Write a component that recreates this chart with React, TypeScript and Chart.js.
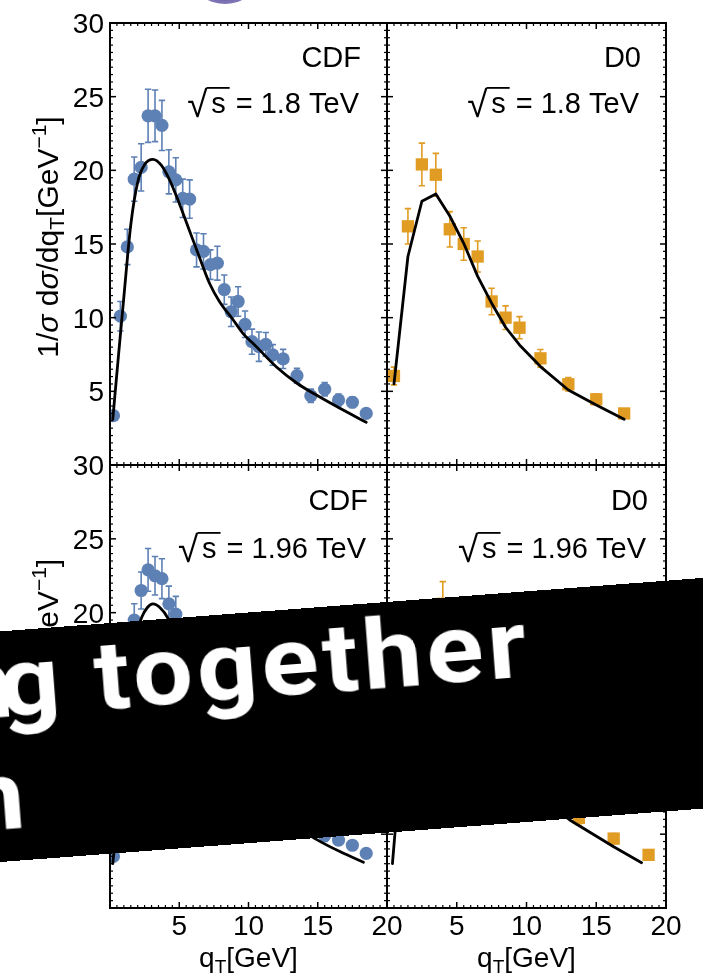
import React, { useEffect, useRef } from "react";
import { Chart, registerables } from "chart.js";

Chart.register(...registerables);

const PAGE_W = 703;
const PAGE_H = 978;
const FAMILY = '"Liberation Sans", Arial, Helvetica, sans-serif';

const BLUE = "#5E81B5";
const ORANGE = "#E19C24";

// ---------- CDF, sqrt(s) = 1.8 TeV ----------
const cdf18Qt = [0.25, 0.75, 1.25, 1.75, 2.25, 2.75, 3.25, 3.75, 4.25, 4.75, 5.25, 5.75, 6.25, 6.75, 7.25, 7.75, 8.25, 8.75, 9.25, 9.75, 10.25, 10.75, 11.25, 11.75, 12.5, 13.5, 14.5, 15.5, 16.5, 17.5, 18.5];
const cdf18Val = [3.35, 10.1, 14.8, 19.4, 20.2, 23.7, 23.7, 23.05, 19.9, 19.35, 18.1, 18.05, 14.6, 14.5, 13.6, 13.7, 11.9, 10.4, 11.1, 9.55, 8.37, 8.03, 8.19, 7.47, 7.2, 6.06, 4.7, 5.14, 4.41, 4.26, 3.5];
const cdf18Err = [0.3, 1.0, 1.2, 1.5, 1.6, 1.8, 1.75, 1.7, 1.5, 1.5, 1.3, 1.3, 1.15, 1.2, 1.0, 1.15, 1.0, 1.0, 1.0, 0.9, 0.85, 1.0, 0.8, 0.7, 0.65, 0.5, 0.45, 0.45, 0.4, 0.35, 0.3];
const cdf18ThQt = [0.2, 0.6, 1.0, 1.5, 2.0, 2.5, 3.1, 3.7, 4.3, 4.9, 5.7, 6.5, 7.2, 7.9, 8.9, 9.6, 10.6, 12.0, 13.5, 14.9, 16.6, 18.5];
const cdf18ThVal = [3.1, 7.3, 11.4, 16.3, 19.2, 20.4, 20.75, 20.35, 19.35, 18.0, 16.0, 14.0, 12.3, 11.1, 9.84, 8.94, 8.0, 6.67, 5.55, 4.75, 3.85, 2.9];

// ---------- D0, sqrt(s) = 1.8 TeV ----------
const d018Qt = [0.5, 1.5, 2.5, 3.5, 4.5, 5.5, 6.5, 7.5, 8.5, 9.5, 11, 13, 15, 17];
const d018Val = [6.04, 16.2, 20.4, 19.7, 16.0, 15.0, 14.15, 11.1, 10.0, 9.32, 7.24, 5.48, 4.46, 3.5];
const d018Err = [0.6, 1.2, 1.45, 1.45, 1.2, 1.1, 1.05, 0.9, 0.8, 0.75, 0.6, 0.45, 0.35, 0.3];
const d018ThQt = [0.5, 1.5, 2.5, 3.5, 4.5, 5.5, 6.5, 7.5, 8.5, 9.5, 11, 13, 15, 17];
const d018ThVal = [5.5, 14.15, 17.9, 18.4, 16.9, 15.05, 12.8, 10.98, 9.35, 8.15, 6.68, 5.09, 4.07, 3.1];

// ---------- CDF, sqrt(s) = 1.96 TeV (points outside the banner) ----------
const cdf196Qt = [0.25, 1.75, 2.25, 2.75, 3.25, 3.75, 4.25, 4.75, 15.5, 16.5, 17.5, 18.5];
const cdf196Val = [3.5, 19.5, 21.5, 22.9, 22.5, 22.3, 20.6, 19.9, 4.9, 4.6, 4.25, 3.7];
const cdf196Err = [0.3, 1.1, 1.25, 1.45, 1.3, 1.35, 1.2, 1.2, 0.4, 0.35, 0.3, 0.3];
const cdf196ThQt = [0.2, 0.35, 1.0, 1.8, 2.3, 2.7, 3.1, 3.6, 4.2, 4.8, 10.0, 14.0, 14.9, 16.6, 18.3];
const cdf196ThVal: (number | null)[] = [3.0, 4.4, null, 18.2, 19.7, 20.35, 20.6, 20.35, 19.6, 18.2, null, 5.2, 4.65, 3.82, 3.1];

// ---------- D0, sqrt(s) = 1.96 TeV (points outside the banner) ----------
const d0196Qt = [4.0, 13.75, 16.25, 18.75];
const d0196Val = [20.6, 6.1, 4.7, 3.6];
const d0196Err = [1.5, 0.5, 0.35, 0.3];
const d0196ThQt = [0.39, 0.6, 5.0, 12.5, 13.1, 16.25, 18.25];
const d0196ThVal: (number | null)[] = [3.0, 5.4, null, 6.4, 5.96, 4.15, 3.07];

// ---------- axes ----------
const X_MIN = 0, X_MAX = 20, Y_MIN = 0, Y_MAX = 30;
const xMajor = [5, 10, 15];
const yMajor = [5, 10, 15, 20, 25];
const MINOR_STEP = 0.5;
const xLabelValues = [5, 10, 15, 20];
const xLabelTexts = ["5", "10", "15", "20"];
const yLabelValues = [5, 10, 15, 20, 25, 30];
const yLabelTexts = ["5", "10", "15", "20", "25", "30"];

type Seg = { t: string; size: number; dy?: number; italic?: boolean };

const yTitle: Seg[] = [
  { t: "1/", size: 30 },
  { t: "σ", size: 30, italic: true },
  { t: " d", size: 30 },
  { t: "σ", size: 30, italic: true },
  { t: "/dq", size: 30 },
  { t: "T", size: 21, dy: 6 },
  { t: "[GeV", size: 30 },
  { t: "−1", size: 21, dy: -12 },
  { t: "]", size: 30 },
];
const xTitle: Seg[] = [
  { t: "q", size: 28 },
  { t: "T", size: 19, dy: 6 },
  { t: "[GeV]", size: 28 },
];

type PanelSpec = {
  frame: [number, number, number, number];
  qt: number[];
  val: number[];
  err: number[];
  thQt: number[];
  thVal: (number | null)[];
  smooth: boolean;
  color: string;
  marker: "circle" | "rect";
  markerRadius: number;
  experiment: string;
  energy: string;
  labelRight: number;
  expBaseline: number;
  energyBaseline: number;
  xLabels: boolean;
  yLabels: boolean;
};

const PANELS: PanelSpec[] = [
  {
    frame: [110, 23, 387, 465],
    qt: cdf18Qt, val: cdf18Val, err: cdf18Err,
    thQt: cdf18ThQt, thVal: cdf18ThVal, smooth: true,
    color: BLUE, marker: "circle", markerRadius: 6.6,
    experiment: "CDF", energy: "1.8",
    labelRight: 361, expBaseline: 67, energyBaseline: 113,
    xLabels: false, yLabels: true,
  },
  {
    frame: [387, 23, 666, 465],
    qt: d018Qt, val: d018Val, err: d018Err,
    thQt: d018ThQt, thVal: d018ThVal, smooth: false,
    color: ORANGE, marker: "rect", markerRadius: 8.7,
    experiment: "D0", energy: "1.8",
    labelRight: 641, expBaseline: 67, energyBaseline: 113,
    xLabels: false, yLabels: false,
  },
  {
    frame: [110, 465, 387, 908],
    qt: cdf196Qt, val: cdf196Val, err: cdf196Err,
    thQt: cdf196ThQt, thVal: cdf196ThVal, smooth: true,
    color: BLUE, marker: "circle", markerRadius: 6.6,
    experiment: "CDF", energy: "1.96",
    labelRight: 368, expBaseline: 510, energyBaseline: 558,
    xLabels: true, yLabels: true,
  },
  {
    frame: [387, 465, 666, 908],
    qt: d0196Qt, val: d0196Val, err: d0196Err,
    thQt: d0196ThQt, thVal: d0196ThVal, smooth: false,
    color: ORANGE, marker: "rect", markerRadius: 8.7,
    experiment: "D0", energy: "1.96",
    labelRight: 648, expBaseline: 510, energyBaseline: 558,
    xLabels: true, yLabels: false,
  },
];

function font(size: number, italic = false) {
  return `${italic ? "italic " : ""}${size}px ${FAMILY}`;
}

function richWidth(ctx: CanvasRenderingContext2D, segs: Seg[]) {
  let w = 0;
  for (const s of segs) {
    ctx.font = font(s.size, s.italic);
    w += ctx.measureText(s.t).width;
  }
  return w;
}

// draws a run of text pieces centred on (cx, baseline) in the current transform
function drawRich(ctx: CanvasRenderingContext2D, segs: Seg[], cx: number, baseline: number) {
  const total = richWidth(ctx, segs);
  let x = cx - total / 2;
  ctx.textAlign = "left";
  ctx.textBaseline = "alphabetic";
  for (const s of segs) {
    ctx.font = font(s.size, s.italic);
    ctx.fillText(s.t, x, baseline + (s.dy || 0));
    x += ctx.measureText(s.t).width;
  }
}

function drawEnergy(ctx: CanvasRenderingContext2D, rightX: number, baseline: number, energy: string) {
  const size = 29;
  ctx.textAlign = "left";
  ctx.textBaseline = "alphabetic";
  ctx.font = font(size);
  const rest = `= ${energy} TeV`;
  const restW = ctx.measureText(rest).width;
  const restX = rightX - restW;
  ctx.fillText(rest, restX, baseline);
  const sW = ctx.measureText("s").width;
  const sX = restX - 10 - sW;
  ctx.fillText("s", sX, baseline);
  // radical sign with its bar over the s
  ctx.font = font(size + 8);
  const m = ctx.measureText("√");
  const radX = sX - 3 - m.actualBoundingBoxRight;
  const radBase = baseline + 4;
  ctx.fillText("√", radX, radBase);
  const top = radBase - m.actualBoundingBoxAscent;
  const barStart = radX + m.actualBoundingBoxRight - 1.5;
  ctx.fillRect(barStart, top, sX + sW + 4 - barStart, 1.8);
}

function makeDecor(p: PanelSpec) {
  return {
    id: "panelDecor",
    beforeDatasetsDraw(chart: any) {
      const { ctx, chartArea: a, scales } = chart;
      const xs = scales.x, ys = scales.y;
      ctx.save();
      ctx.beginPath();
      ctx.rect(a.left, a.top, a.right - a.left, a.bottom - a.top);
      ctx.clip();
      ctx.strokeStyle = p.color;
      ctx.lineWidth = 1.6;
      p.qt.forEach((q, i) => {
        const e = p.err[i];
        const px = xs.getPixelForValue(q);
        const yHi = ys.getPixelForValue(p.val[i] + e);
        const yLo = ys.getPixelForValue(p.val[i] - e);
        ctx.beginPath();
        ctx.moveTo(px, yHi);
        ctx.lineTo(px, yLo);
        ctx.moveTo(px - 3.2, yHi);
        ctx.lineTo(px + 3.2, yHi);
        ctx.moveTo(px - 3.2, yLo);
        ctx.lineTo(px + 3.2, yLo);
        ctx.stroke();
      });
      ctx.restore();
    },
    afterDraw(chart: any) {
      const { ctx, chartArea: a, scales } = chart;
      const xs = scales.x, ys = scales.y;
      ctx.save();
      ctx.fillStyle = "#000";
      ctx.strokeStyle = "#000";

      // ticks on all four sides, pointing inwards
      const tick = (x1: number, y1: number, x2: number, y2: number, w: number) => {
        ctx.lineWidth = w;
        ctx.beginPath();
        ctx.moveTo(x1, y1);
        ctx.lineTo(x2, y2);
        ctx.stroke();
      };
      for (let v = X_MIN + MINOR_STEP; v < X_MAX - 1e-9; v += MINOR_STEP) {
        const major = xMajor.some((m) => Math.abs(m - v) < 1e-9);
        const len = major ? 6 : 3;
        const w = major ? 1.5 : 1.2;
        const px = xs.getPixelForValue(v);
        tick(px, a.top, px, a.top + len, w);
        tick(px, a.bottom, px, a.bottom - len, w);
      }
      for (let v = Y_MIN + MINOR_STEP; v < Y_MAX - 1e-9; v += MINOR_STEP) {
        const major = yMajor.some((m) => Math.abs(m - v) < 1e-9);
        const len = major ? 6 : 3;
        const w = major ? 1.5 : 1.2;
        const py = ys.getPixelForValue(v);
        tick(a.left, py, a.left + len, py, w);
        tick(a.right, py, a.right - len, py, w);
      }

      // frame
      ctx.lineWidth = 2;
      ctx.strokeRect(a.left, a.top, a.right - a.left, a.bottom - a.top);

      // tick labels
      ctx.font = font(28);
      ctx.textBaseline = "alphabetic";
      if (p.yLabels) {
        ctx.textAlign = "right";
        yLabelValues.forEach((v, i) => {
          ctx.fillText(yLabelTexts[i], a.left - 6, ys.getPixelForValue(v) + 10);
        });
        ctx.save();
        ctx.translate(58, (a.top + a.bottom) / 2 - 7);
        ctx.rotate(-Math.PI / 2);
        drawRich(ctx, yTitle, 0, 0);
        ctx.restore();
      }
      if (p.xLabels) {
        ctx.font = font(28);
        ctx.textAlign = "center";
        xLabelValues.forEach((v, i) => {
          ctx.fillText(xLabelTexts[i], xs.getPixelForValue(v), a.bottom + 27);
        });
        drawRich(ctx, xTitle, (a.left + a.right) / 2, a.bottom + 59);
      }

      // experiment and energy
      ctx.font = font(29);
      ctx.textAlign = "right";
      ctx.fillText(p.experiment, p.labelRight, p.expBaseline);
      drawEnergy(ctx, p.labelRight - 2, p.energyBaseline, p.energy);
      ctx.restore();
    },
  };
}

function Panel({ spec }: { spec: PanelSpec }) {
  const ref = useRef<HTMLCanvasElement>(null);
  useEffect(() => {
    const canvas = ref.current;
    if (!canvas) return;
    const [l, t, r, b] = spec.frame;
    const theory = spec.thQt.map((q, i) => ({ x: q, y: spec.thVal[i] }));
    const points = spec.qt.map((q, i) => ({ x: q, y: spec.val[i] }));
    const chart = new Chart(canvas, {
      type: "line",
      data: {
        datasets: [
          {
            data: theory as any,
            borderColor: "#000",
            borderWidth: 2.8,
            pointRadius: 0,
            tension: 0,
            cubicInterpolationMode: spec.smooth ? "monotone" : "default",
            spanGaps: false,
            fill: false,
            borderCapStyle: "round",
            borderJoinStyle: "round",
          },
          {
            data: points as any,
            showLine: false,
            pointStyle: spec.marker,
            pointRadius: spec.markerRadius,
            pointBackgroundColor: spec.color,
            pointBorderWidth: 0,
            borderWidth: 0,
            clip: 0,
          } as any,
        ],
      },
      options: {
        animation: false,
        responsive: false,
        devicePixelRatio: 1,
        events: [],
        layout: { padding: { left: l, top: t, right: PAGE_W - r, bottom: PAGE_H - b } },
        scales: {
          x: { type: "linear", min: X_MIN, max: X_MAX, display: false },
          y: { type: "linear", min: Y_MIN, max: Y_MAX, display: false },
        },
        plugins: { legend: { display: false }, tooltip: { enabled: false } },
      },
      plugins: [makeDecor(spec)],
    });
    return () => chart.destroy();
  }, [spec]);
  return (
    <canvas
      ref={ref}
      width={PAGE_W}
      height={PAGE_H}
      style={{ position: "absolute", left: 0, top: 0 }}
    />
  );
}

const bannerText: React.CSSProperties = {
  position: "absolute",
  whiteSpace: "nowrap",
  color: "#fff",
  fontFamily: "Roboto, sans-serif",
  fontWeight: 700,
  fontSize: 97,
  lineHeight: "97px",
  letterSpacing: 4,
  transform: "scaleX(1.09)",
  transformOrigin: "100% 0",
};

export default function App() {
  return (
    <div
      style={{
        position: "absolute",
        left: 0,
        top: 0,
        width: PAGE_W,
        height: PAGE_H,
        overflow: "hidden",
        background: "#fff",
      }}
    >
      <div
        style={{
          position: "absolute",
          left: 195,
          top: -40,
          width: 60,
          height: 44,
          borderRadius: "50%",
          background: "radial-gradient(ellipse at 50% 35%, #4a3d88 0%, #6f62aa 55%, #a99fd0 100%)",
        }}
      />
      {PANELS.map((p, i) => (
        <Panel key={i} spec={p} />
      ))}
      <div
        style={{
          position: "absolute",
          left: -100,
          top: 638.6,
          width: 1000,
          height: 230.3,
          background: "#000",
          transform: "rotate(-4.35deg)",
          transformOrigin: "0 0",
          overflow: "hidden",
        }}
      >
        <div style={{ ...bannerText, right: 372, top: 4 }}>
          <span style={{ marginRight: -16 }}>n</span>g together
        </div>
        <div style={{ ...bannerText, right: 884, top: 116 }}>n</div>
      </div>
    </div>
  );
}
